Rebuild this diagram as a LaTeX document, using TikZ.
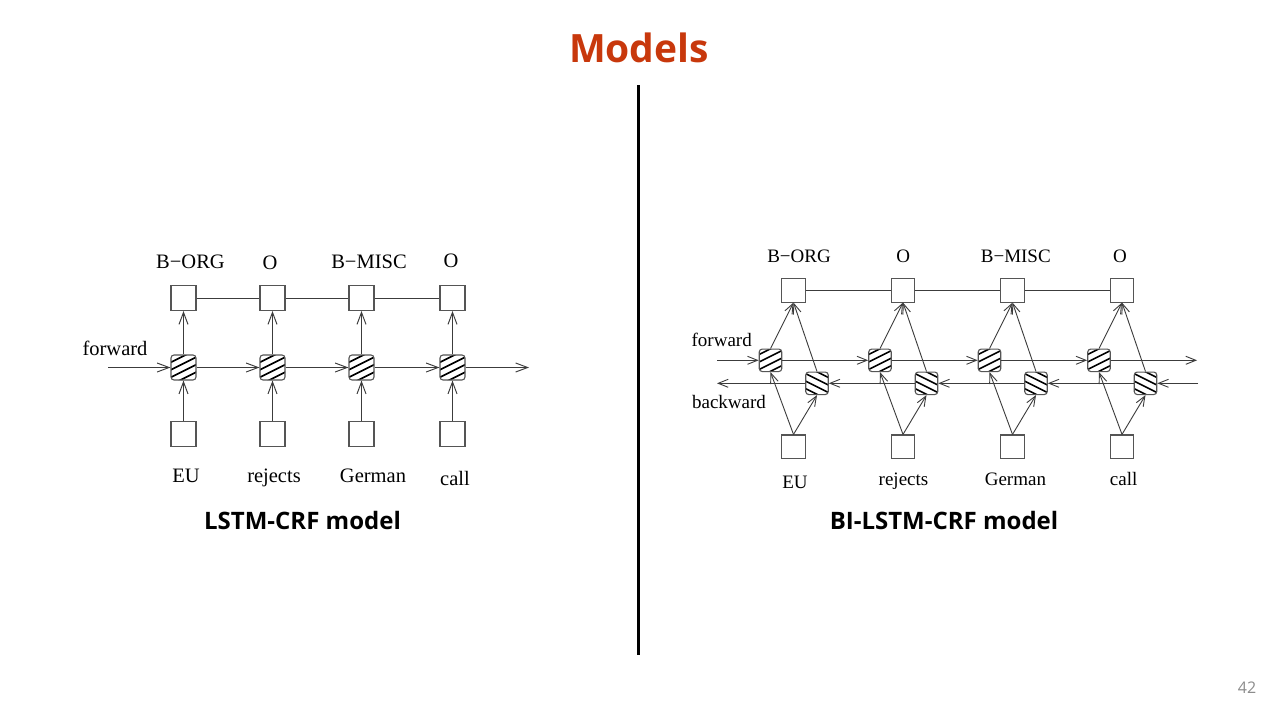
\documentclass[tikz,border=0pt]{standalone}
\usepackage{fontspec}
\setmainfont{Liberation Serif}
\newfontfamily\headfont{Open Sans}
\usetikzlibrary{arrows.meta}
\definecolor{titlered}{RGB}{200,56,12}
\definecolor{edgegray}{RGB}{60,60,60}
\definecolor{boxgray}{RGB}{85,85,85}
\definecolor{pagegray}{RGB}{140,140,140}

\begin{document}
\begin{tikzpicture}[x=1pt,y=-1pt,
  % plain square unit (word input / tag output)
  unitbox/.style={draw=boxgray, line width=1.1pt, fill=white, inner sep=0pt, minimum size=#1},
  % rounded LSTM cell
  cellbox/.style={draw=boxgray, line width=1.1pt, fill=white, rounded corners=3pt, inner sep=0pt, minimum size=#1},
  % hatching rising to the right (forward cells)
  fwdhatch/.style={path picture={\foreach \k in {-11.5,-4,3.5,11}{
      \draw[black, line width=1.6pt]
        ([shift={(-20,\k+10)}]path picture bounding box.center) --
        ([shift={(20,\k-10)}]path picture bounding box.center);}}},
  % hatching falling to the right (backward cells)
  bwdhatch/.style={path picture={\foreach \k in {-11.5,-4,3.5,11}{
      \draw[black, line width=1.6pt]
        ([shift={(-20,\k-10)}]path picture bounding box.center) --
        ([shift={(20,\k+10)}]path picture bounding box.center);}}},
  arr/.style={draw=edgegray, line width=0.95pt, -{Straight Barb[length=12pt, width=9pt]}},
  arrs/.style={draw=edgegray, line width=0.9pt, -{Straight Barb[length=10pt, width=8pt]}},
  link/.style={draw=edgegray, line width=0.95pt},
  lbl/.style={anchor=base, inner sep=0pt, font=\fontsize{20.5}{24}\selectfont},
  lbr/.style={anchor=base, inner sep=0pt, font=\fontsize{19}{23}\selectfont},
  caption/.style={anchor=base, inner sep=0pt, font=\headfont\bfseries\fontsize{24}{29}\selectfont},
]
\useasboundingbox[fill=white] (0,0) rectangle (1280,720);

% ---- heading, divider and page number
\node[anchor=base, inner sep=0pt, text=titlered, font=\headfont\bfseries\fontsize{39}{46}\selectfont] (title) at (639,62) {Models};
\coordinate (divtop) at (638,85);
\coordinate (divbot) at (638,655);
\draw[line width=3pt, black] (divtop) -- (divbot);
\node[anchor=base, inner sep=0pt, text=pagegray, font=\headfont\fontsize{16}{19}\selectfont] (pageno) at (1247,693) {42};

% ================= LSTM-CRF (left) =================
\foreach \i/\x in {1/183.5, 2/272.5, 3/361.5, 4/452.5}{
  \node[unitbox=25pt] (lt\i) at (\x,298) {};
  \node[cellbox=25pt, fwdhatch] (lc\i) at (\x,367.5) {};
  \node[unitbox=25pt] (lb\i) at (\x,434) {};
}
\coordinate (lin) at (108,367.5);
\coordinate (lout) at (529,367.5);

\draw[link] (lt1) -- (lt2) -- (lt3) -- (lt4);
\foreach \i in {1,...,4}{
  \draw[arr] (lb\i) -- (lc\i);
  \draw[arr] (lc\i) -- (lt\i);
}
\draw[arr] (lin) -- (lc1);
\draw[arr] (lc1) -- (lc2);
\draw[arr] (lc2) -- (lc3);
\draw[arr] (lc3) -- (lc4);
\draw[arr] (lc4) -- (lout);

\node[lbl] (ltag1) at (190.5,268) {B−ORG};
\node[lbl] (ltag2) at (270,269) {O};
\node[lbl] (ltag3) at (369,268) {B−MISC};
\node[lbl] (ltag4) at (451,267.5) {O};
\node[lbl] (lfwd) at (115,355) {forward};
\node[lbl] (lw1) at (186,482) {EU};
\node[lbl] (lw2) at (274,482) {rejects};
\node[lbl] (lw3) at (373,482) {German};
\node[lbl] (lw4) at (455,485) {call};

\node[caption] (lcap) at (302.5,529) {LSTM-CRF model};

% ================= BI-LSTM-CRF (right) =================
\foreach \i/\x in {1/793.5, 2/903, 3/1012.5, 4/1122}{
  \node[unitbox=23.5pt] (rt\i) at (\x,290.3) {};
  \node[cellbox=22.5pt, fwdhatch] (rf\i) at (\x-23,360.3) {};
  \node[cellbox=22.5pt, bwdhatch] (rk\i) at (\x+23.5,383.3) {};
  \node[unitbox=23.5pt] (rb\i) at (\x,446.7) {};
}
\coordinate (rfin) at (717,360.3);
\coordinate (rfout) at (1197,360.3);
\coordinate (rkin) at (1198,383.3);
\coordinate (rkout) at (717,383.3);

\draw[link] (rt1) -- (rt2) -- (rt3) -- (rt4);
\foreach \i in {1,...,4}{
  \draw[arrs] (rb\i.north) -- (rf\i.south);
  \draw[arrs] (rb\i.north) -- (rk\i.south);
  \draw[arrs] (rf\i.north) -- (rt\i.south);
  \draw[arrs] (rk\i.north) -- (rt\i.south);
}
\draw[arrs] (rfin) -- (rf1);
\draw[arrs] (rf1) -- (rf2);
\draw[arrs] (rf2) -- (rf3);
\draw[arrs] (rf3) -- (rf4);
\draw[arrs] (rf4) -- (rfout);
\draw[arrs] (rkin) -- (rk4);
\draw[arrs] (rk4) -- (rk3);
\draw[arrs] (rk3) -- (rk2);
\draw[arrs] (rk2) -- (rk1);
\draw[arrs] (rk1) -- (rkout);

\node[lbr] (rtag1) at (799,262) {B−ORG};
\node[lbr] (rtag2) at (903.3,262) {O};
\node[lbr] (rtag3) at (1015.8,262) {B−MISC};
\node[lbr] (rtag4) at (1120,262) {O};
\node[lbr] (rfwd) at (721.7,346.7) {forward};
\node[lbr] (rbwd) at (729,408.3) {backward};
\node[lbr] (rw1) at (795,488) {EU};
\node[lbr] (rw2) at (903.5,485) {rejects};
\node[lbr] (rw3) at (1015.4,485) {German};
\node[lbr] (rw4) at (1123.6,485) {call};

\node[caption] (rcap) at (944,529) {BI-LSTM-CRF model};
\end{tikzpicture}
\end{document}
